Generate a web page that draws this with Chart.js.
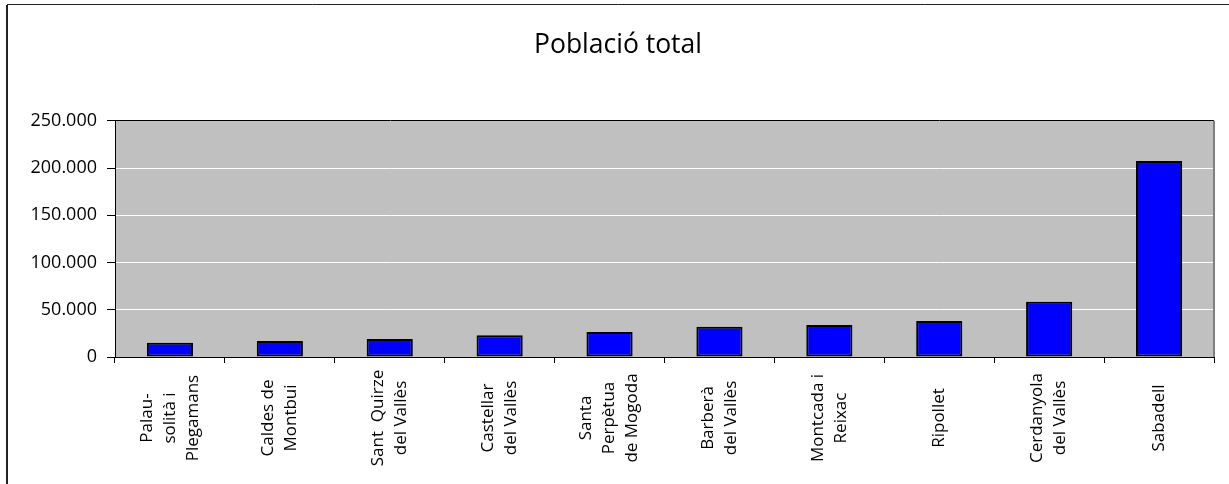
<!DOCTYPE html>
<html>
<head>
<meta charset="utf-8">
<script src="https://cdn.jsdelivr.net/npm/chart.js@4/dist/chart.umd.min.js"></script>
<style>
  html, body { margin: 0; padding: 0; background: #fff; }
  canvas { display: block; }
</style>
</head>
<body>
<canvas id="poblacioChart" width="1229" height="484"></canvas>
<script>
// data
var municipis = [
    ['Palau-', 'solità i', 'Plegamans'],
    ['Caldes de', 'Montbui'],
    ['Sant  Quirze', 'del Vallès'],
    ['Castellar', 'del Vallès'],
    ['Santa', 'Perpètua', 'de Mogoda'],
    ['Barberà', 'del Vallès'],
    ['Montcada i', 'Reixac'],
    ['Ripollet'],
    ['Cerdanyola', 'del Vallès'],
    ['Sabadell']
];
var poblacio = [15000, 17000, 19000, 23000, 26500, 32000, 34000, 38000, 58500, 207500];
var yTicks = [0, 50000, 100000, 150000, 200000, 250000];
var titol = 'Població total';

function formatMiles(v) {
    return String(v).replace(/\B(?=(\d{3})+(?!\d))/g, '.');
}

// background, plot area and outer frame
var backgroundPlugin = {
    id: 'background',
    beforeDraw: function(chart) {
        var ctx = chart.ctx;
        var a = chart.chartArea;
        ctx.save();
        ctx.fillStyle = '#ffffff';
        ctx.fillRect(0, 0, chart.width, chart.height);
        ctx.fillStyle = '#c0c0c0';
        ctx.fillRect(a.left, a.top, a.right - a.left, a.bottom - a.top);
        // frame (only left and top edges are visible)
        ctx.strokeStyle = '#222';
        ctx.lineWidth = 2;
        ctx.beginPath();
        ctx.moveTo(7, chart.height + 5);
        ctx.lineTo(7, 5);
        ctx.stroke();
        ctx.lineWidth = 1;
        ctx.beginPath();
        ctx.moveTo(7, 4.5);
        ctx.lineTo(chart.width + 5, 4.5);
        ctx.stroke();
        ctx.restore();
    },
    afterDraw: function(chart) {
        var ctx = chart.ctx;
        var a = chart.chartArea;
        ctx.save();
        ctx.strokeStyle = '#808080';
        ctx.lineWidth = 2;
        ctx.beginPath();
        ctx.moveTo(a.right, a.top);
        ctx.lineTo(a.right, a.bottom);
        ctx.stroke();
        ctx.restore();
    }
};

// centered, rotated category labels
var labelsPlugin = {
    id: 'rotatedLabels',
    afterDraw: function(chart) {
        var ctx = chart.ctx;
        var xs = chart.scales.x;
        var lineGap = 23;
        var centerY = xs.top + 61;
        ctx.save();
        ctx.font = '17px "Open Sans"';
        ctx.fillStyle = '#000';
        ctx.textAlign = 'center';
        ctx.textBaseline = 'middle';
        municipis.forEach(function(lines, i) {
            var cx = xs.getPixelForValue(i);
            var n = lines.length;
            lines.forEach(function(line, j) {
                var x = cx + (j - (n - 1) / 2) * lineGap;
                ctx.save();
                ctx.translate(x, centerY);
                ctx.rotate(-Math.PI / 2);
                ctx.fillText(line, 0, 0);
                ctx.restore();
            });
        });
        ctx.restore();
    }
};

var ctx = document.getElementById('poblacioChart');
var chart = new Chart(ctx, {
    type: 'bar',
    data: {
        labels: municipis.map(function(l) { return l.join(' '); }),
        datasets: [{
            data: poblacio,
            backgroundColor: '#0000ff',
            borderColor: '#000000',
            borderWidth: 2,
            borderSkipped: false,
            barPercentage: 0.42,
            categoryPercentage: 1
        }]
    },
    options: {
        responsive: false,
        devicePixelRatio: 1,
        animation: false,
        layout: { padding: { left: 22, right: 15, top: 0, bottom: 0 } },
        plugins: {
            legend: { display: false },
            tooltip: { enabled: false },
            title: {
                display: true,
                text: titol,
                color: '#000',
                font: { family: '"Open Sans"', size: 26.5, weight: 'normal', lineHeight: 1.2 },
                padding: { top: 30, bottom: 59 }
            }
        },
        scales: {
            x: {
                grid: {
                    display: true,
                    offset: true,
                    drawOnChartArea: false,
                    drawTicks: true,
                    tickLength: 6,
                    tickColor: '#000'
                },
                border: { display: true, color: '#000', width: 1 },
                ticks: {
                    autoSkip: false,
                    maxRotation: 0,
                    callback: function() { return ''; }
                },
                afterFit: function(scale) { scale.height = 127; }
            },
            y: {
                min: 0,
                max: yTicks[yTicks.length - 1],
                afterBuildTicks: function(scale) {
                    scale.ticks = yTicks.map(function(v) { return { value: v }; });
                },
                grid: {
                    color: function(c) {
                        var v = c.tick ? c.tick.value : 0;
                        return (v === 0 || v === yTicks[yTicks.length - 1]) ? '#000' : '#ffffff';
                    },
                    lineWidth: 1,
                    drawTicks: true,
                    tickLength: 8,
                    tickColor: '#000'
                },
                border: { display: true, color: '#000', width: 1 },
                ticks: {
                    color: '#000',
                    padding: 10,
                    font: { family: '"Open Sans"', size: 18 },
                    callback: function(v) { return formatMiles(v); }
                },
                afterFit: function(scale) { scale.width = 93; }
            }
        }
    },
    plugins: [backgroundPlugin, labelsPlugin]
});
</script>
</body>
</html>
